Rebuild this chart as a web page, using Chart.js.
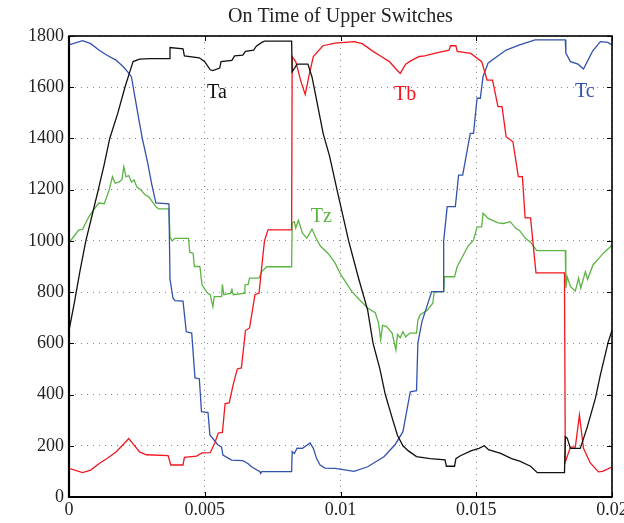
<!DOCTYPE html>
<html>
<head>
<meta charset="utf-8">
<script src="https://cdn.jsdelivr.net/npm/chart.js@4.4.1/dist/chart.umd.min.js"></script>
<style>
  html, body { margin: 0; padding: 0; background: #fff; }
  #wrap { width: 624px; height: 523px; }
</style>
</head>
<body>
<div id="wrap"><canvas id="myChart" width="624" height="523"></canvas></div>
<script>
// time in ms (axis shows seconds)
const taTime = [0, 0.2, 0.4, 0.62, 0.85, 1.08, 1.3, 1.5, 1.8, 2.06, 2.24, 2.36, 2.6, 3.0, 3.7, 3.72, 4.2, 4.25, 4.8, 5.0, 5.2, 5.3, 5.55, 5.6, 6.0, 6.1, 6.4, 6.5, 6.8, 6.9, 7.1, 7.2, 8.2, 8.22, 8.4, 8.8, 8.95, 9.1, 9.36, 9.6, 9.87, 10.3, 10.65, 11.0, 11.2, 11.45, 11.65, 11.9, 12.1, 12.3, 12.5, 12.8, 13.3, 13.85, 13.9, 14.2, 14.25, 14.4, 14.8, 15.1, 15.3, 15.45, 15.9, 16.3, 16.6, 17.0, 17.25, 18.25, 18.28, 18.35, 18.47, 18.83, 19.08, 19.39, 19.57, 19.86, 20.0];
const taValue = [650, 760, 880, 1000, 1100, 1200, 1300, 1400, 1500, 1600, 1660, 1700, 1710, 1712, 1712, 1755, 1750, 1722, 1715, 1700, 1668, 1665, 1675, 1700, 1705, 1722, 1725, 1740, 1745, 1760, 1775, 1780, 1780, 1660, 1690, 1690, 1640, 1560, 1420, 1330, 1200, 1000, 860, 730, 600, 500, 400, 310, 240, 200, 180, 158, 150, 145, 120, 120, 150, 160, 180, 190, 200, 185, 170, 150, 140, 120, 95, 95, 235, 230, 190, 190, 270, 386, 476, 605, 650];

const tbTime = [0, 0.5, 0.8, 1.1, 1.4, 1.73, 2.0, 2.2, 2.3, 2.6, 2.85, 3.65, 3.75, 4.2, 4.25, 4.7, 4.9, 5.2, 5.37, 5.5, 5.65, 5.75, 5.9, 6.05, 6.2, 6.35, 6.5, 6.65, 6.85, 7.0, 7.1, 7.2, 7.33, 8.2, 8.22, 8.35, 8.55, 8.7, 8.85, 9.0, 9.35, 9.8, 10.5, 10.8, 11.2, 11.5, 11.8, 12.05, 12.2, 12.4, 12.6, 12.9, 13.1, 13.5, 14.0, 14.05, 14.25, 14.3, 14.8, 15.2, 15.4, 15.6, 15.8, 15.95, 16.1, 16.35, 16.55, 16.7, 16.8, 17.0, 17.2, 18.25, 18.28, 18.47, 18.65, 18.8, 18.95, 19.2, 19.5, 19.65, 20.0];
const tbValue = [112, 95, 105, 130, 150, 176, 205, 228, 215, 176, 165, 162, 125, 125, 155, 160, 172, 173, 211, 250, 252, 365, 367, 440, 500, 504, 650, 660, 790, 796, 900, 1000, 1043, 1043, 1720, 1700, 1620, 1572, 1650, 1720, 1762, 1772, 1778, 1770, 1740, 1720, 1700, 1670, 1654, 1690, 1704, 1720, 1722, 1733, 1745, 1762, 1762, 1740, 1732, 1700, 1628, 1628, 1524, 1524, 1407, 1387, 1251, 1251, 1090, 1090, 875, 875, 137, 195, 195, 320, 190, 133, 98, 100, 117];

const tcTime = [0, 0.5, 0.8, 1.1, 1.4, 1.73, 2.0, 2.2, 2.3, 2.53, 2.7, 2.9, 3.05, 3.2, 3.68, 3.72, 3.83, 3.9, 4.2, 4.32, 4.52, 4.64, 4.8, 4.88, 5.12, 5.19, 5.49, 5.62, 5.67, 5.99, 6.4, 6.6, 6.72, 7.03, 7.06, 7.1, 8.2, 8.22, 8.3, 8.4, 8.6, 8.88, 9.0, 9.12, 9.25, 9.43, 9.8, 10.5, 11.0, 11.6, 12.0, 12.3, 12.57, 12.8, 12.85, 13.0, 13.36, 13.78, 13.8, 13.93, 14.23, 14.35, 14.5, 14.78, 14.9, 15.03, 15.15, 15.25, 15.44, 15.77, 16.1, 16.6, 17.17, 18.28, 18.3, 18.47, 18.75, 18.95, 19.28, 19.57, 19.85, 20.0];
const tcValue = [1765, 1782, 1770, 1745, 1725, 1706, 1680, 1655, 1640, 1500, 1400, 1304, 1220, 1148, 1145, 850, 777, 767, 765, 645, 640, 465, 462, 333, 330, 242, 203, 195, 164, 144, 142, 130, 118, 99, 92, 99, 99, 177, 170, 191, 190, 211, 190, 150, 125, 113, 112, 100, 118, 157, 203, 255, 411, 415, 601, 685, 802, 802, 1000, 1134, 1134, 1257, 1257, 1420, 1420, 1557, 1557, 1641, 1695, 1720, 1745, 1765, 1785, 1785, 1733, 1700, 1690, 1671, 1740, 1778, 1775, 1765];

const tzTime = [0, 0.2, 0.36, 0.5, 0.73, 0.9, 1.1, 1.3, 1.48, 1.6, 1.7, 1.85, 1.95, 2.02, 2.1, 2.2, 2.3, 2.4, 2.5, 2.64, 2.8, 2.94, 3.2, 3.3, 3.68, 3.72, 3.8, 3.9, 4.4, 4.45, 4.57, 4.62, 4.82, 4.9, 5.1, 5.2, 5.3, 5.35, 5.62, 5.65, 5.7, 5.95, 6.0, 6.05, 6.45, 6.48, 6.6, 6.65, 7.0, 7.1, 7.28, 8.2, 8.22, 8.3, 8.35, 8.45, 8.6, 8.76, 8.95, 9.1, 9.26, 9.55, 9.8, 10.0, 10.42, 10.7, 11.0, 11.28, 11.4, 11.48, 11.55, 11.7, 11.9, 12.04, 12.1, 12.2, 12.3, 12.4, 12.55, 12.8, 12.85, 12.93, 13.2, 13.4, 13.45, 13.8, 13.83, 14.2, 14.3, 14.5, 14.7, 14.9, 15.03, 15.2, 15.25, 15.44, 15.6, 15.8, 16.0, 16.25, 16.45, 16.6, 16.8, 17.0, 17.23, 18.28, 18.3, 18.35, 18.47, 18.65, 18.77, 18.85, 19.02, 19.1, 19.3, 19.5, 19.68, 19.94, 20.0];
const tzValue = [992, 1020, 1043, 1045, 1094, 1120, 1148, 1145, 1199, 1251, 1225, 1230, 1240, 1290, 1250, 1255, 1230, 1238, 1210, 1200, 1180, 1172, 1134, 1125, 1125, 1015, 1000, 1010, 1010, 955, 952, 900, 900, 828, 796, 790, 743, 782, 782, 830, 790, 795, 810, 790, 795, 828, 830, 855, 855, 880, 899, 899, 1070, 1075, 1050, 1080, 1030, 1011, 1046, 1010, 980, 950, 914, 870, 802, 770, 738, 720, 680, 615, 670, 665, 640, 574, 635, 622, 645, 625, 640, 640, 690, 711, 730, 757, 800, 802, 860, 860, 900, 940, 980, 1003, 1055, 1055, 1108, 1088, 1080, 1070, 1068, 1075, 1050, 1040, 1011, 995, 962, 962, 816, 860, 821, 804, 855, 815, 880, 850, 906, 930, 952, 977, 985];

const seriesNames = ["Ta", "Tb", "Tc", "Tz"];
const seriesColors = ["#111111", "#f2161e", "#3352ad", "#5cb444"];
// where the curve names sit (seconds, value)
const nameX = [0.00545, 0.01238, 0.0190, 0.00929];
const nameY = [1578, 1570, 1581, 1093];

const xTicks = [0, 0.005, 0.01, 0.015, 0.02];

function points(times, values) {
  return times.map((t, i) => ({ x: t / 1000, y: values[i] }));
}

const serif = "'Liberation Serif', 'DejaVu Serif', serif";

const frame = {
  id: "frame",
  afterDraw(chart) {
    const { ctx, chartArea: a, scales } = chart;
    ctx.save();
    // inward ticks
    ctx.strokeStyle = "#000";
    ctx.lineWidth = 1;
    ctx.beginPath();
    xTicks.forEach((v) => {
      const px = Math.round(scales.x.getPixelForValue(v)) + 0.5;
      ctx.moveTo(px, a.bottom); ctx.lineTo(px, a.bottom - 5);
      ctx.moveTo(px, a.top); ctx.lineTo(px, a.top + 5);
    });
    for (let v = 0; v <= 1800; v += 200) {
      const py = Math.round(scales.y.getPixelForValue(v)) + 0.5;
      ctx.moveTo(a.left, py); ctx.lineTo(a.left + 5, py);
      ctx.moveTo(a.right, py); ctx.lineTo(a.right - 5, py);
    }
    ctx.stroke();
    // box
    ctx.lineWidth = 1.6;
    ctx.strokeRect(a.left, a.top, a.right - a.left, a.bottom - a.top);
    ctx.lineWidth = 2.2;
    ctx.beginPath();
    ctx.moveTo(a.left, a.top); ctx.lineTo(a.left, a.bottom); ctx.lineTo(a.right, a.bottom);
    ctx.stroke();
    // curve names
    ctx.font = "20px " + serif;
    ctx.textAlign = "center";
    ctx.textBaseline = "middle";
    seriesNames.forEach((n, i) => {
      ctx.fillStyle = seriesColors[i];
      ctx.fillText(n, scales.x.getPixelForValue(nameX[i]), scales.y.getPixelForValue(nameY[i]));
    });
    ctx.restore();
  }
};

const data = {
  datasets: [
    { label: "Ta", data: points(taTime, taValue) },
    { label: "Tb", data: points(tbTime, tbValue) },
    { label: "Tc", data: points(tcTime, tcValue) },
    { label: "Tz", data: points(tzTime, tzValue) },
  ].map((d, i) => Object.assign(d, {
    borderColor: seriesColors[i],
    borderWidth: 1.3,
    pointRadius: 0,
    tension: 0,
    fill: false,
  })),
};

const config = {
  type: "line",
  data,
  options: {
    animation: false,
    responsive: false,
    layout: { padding: { right: 12, left: 0, top: 0, bottom: 0 } },
    plugins: {
      legend: { display: false },
      tooltip: { enabled: false },
      title: {
        display: true,
        fullSize: false,
        text: "On Time of Upper Switches",
        color: "#222",
        font: { family: serif, size: 20, weight: "normal", lineHeight: 1.2 },
        padding: { top: 5, bottom: 7 },
      },
    },
    scales: {
      x: {
        type: "linear",
        min: 0,
        max: 0.02,
        afterFit: (s) => { s.height = 26; s.paddingLeft = 0; s.paddingRight = 0; },
        afterBuildTicks: (s) => { s.ticks = xTicks.map((v) => ({ value: v })); },
        ticks: {
          color: "#222",
          font: { family: serif, size: 18 },
          padding: 2,
          maxRotation: 0,
          callback: (v) => String(+v.toFixed(3)),
        },
        grid: { color: "#888", lineWidth: 1, drawTicks: false },
        border: { display: false, dash: [1, 5] },
      },
      y: {
        min: 0,
        max: 1800,
        afterFit: (s) => { s.width = 69; s.paddingTop = 0; s.paddingBottom = 0; },
        ticks: {
          stepSize: 200,
          color: "#222",
          font: { family: serif, size: 18 },
          padding: 5,
          callback: (v) => String(v),
        },
        grid: { color: "#888", lineWidth: 1, drawTicks: false },
        border: { display: false, dash: [1, 5] },
      },
    },
  },
  plugins: [frame],
};

const myChart = new Chart(document.getElementById("myChart"), config);
</script>
</body>
</html>
